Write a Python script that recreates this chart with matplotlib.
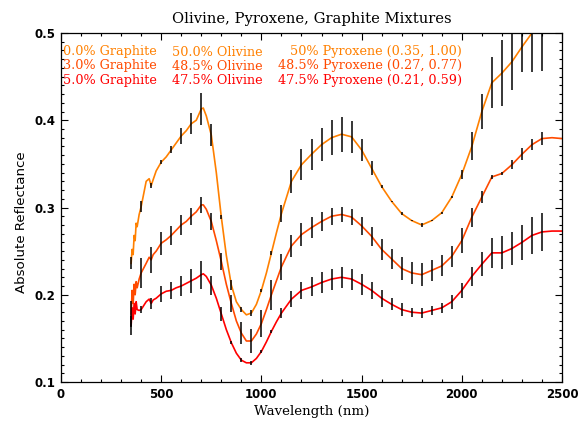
import numpy as np
import matplotlib
matplotlib.use("Agg")
import matplotlib.pyplot as plt
from matplotlib.ticker import MultipleLocator

# Spectrum wavelengths (nm)
wl = [350, 355, 360, 365, 370, 375, 380, 390, 400, 425, 440, 450, 460, 475,
      500, 525, 550, 575, 600, 625, 650, 675, 700, 710, 725, 750, 775, 800,
      825, 850, 875, 900, 925, 950, 975, 1000, 1025, 1050, 1075, 1100, 1150,
      1200, 1250, 1300, 1350, 1400, 1450, 1500, 1550, 1600, 1650, 1700, 1750,
      1800, 1850, 1900, 1950, 2000, 2050, 2100, 2150, 2200, 2250, 2300, 2350,
      2400, 2450, 2500]

refl_0 = [0.236, 0.252, 0.246, 0.268, 0.262, 0.282, 0.278, 0.292, 0.301, 0.330,
          0.333, 0.325, 0.332, 0.342, 0.352, 0.358, 0.366, 0.374, 0.382, 0.388,
          0.396, 0.400, 0.413, 0.414, 0.405, 0.383, 0.340, 0.289, 0.245, 0.211,
          0.192, 0.183, 0.177, 0.179, 0.189, 0.205, 0.225, 0.248, 0.271, 0.293,
          0.330, 0.349, 0.361, 0.372, 0.380, 0.384, 0.381, 0.366, 0.345, 0.324,
          0.307, 0.293, 0.285, 0.280, 0.285, 0.294, 0.312, 0.338, 0.370, 0.410,
          0.443, 0.454, 0.467, 0.484, 0.500, 0.502, 0.503, 0.503]

refl_3 = [0.178, 0.205, 0.190, 0.212, 0.200, 0.215, 0.208, 0.218, 0.225, 0.236,
          0.243, 0.240, 0.246, 0.250, 0.259, 0.263, 0.268, 0.274, 0.280, 0.284,
          0.290, 0.295, 0.303, 0.303, 0.298, 0.284, 0.262, 0.238, 0.212, 0.190,
          0.170, 0.156, 0.147, 0.147, 0.155, 0.167, 0.183, 0.200, 0.216, 0.232,
          0.256, 0.269, 0.277, 0.284, 0.290, 0.292, 0.289, 0.279, 0.267, 0.252,
          0.241, 0.230, 0.225, 0.223, 0.228, 0.233, 0.244, 0.262, 0.289, 0.312,
          0.335, 0.339, 0.349, 0.361, 0.372, 0.379, 0.380, 0.379]

refl_5 = [0.165, 0.185, 0.172, 0.190, 0.178, 0.192, 0.183, 0.182, 0.183, 0.192,
          0.195, 0.190, 0.194, 0.196, 0.201, 0.204, 0.205, 0.208, 0.210, 0.213,
          0.216, 0.219, 0.223, 0.224, 0.221, 0.211, 0.196, 0.178, 0.160, 0.145,
          0.133, 0.125, 0.122, 0.122, 0.127, 0.135, 0.146, 0.158, 0.169, 0.179,
          0.195, 0.205, 0.209, 0.214, 0.218, 0.220, 0.218, 0.212, 0.205, 0.196,
          0.189, 0.183, 0.180, 0.179, 0.182, 0.185, 0.192, 0.205, 0.221, 0.235,
          0.248, 0.248, 0.253, 0.260, 0.268, 0.272, 0.273, 0.273]

# Error bars every 50 nm, 350..2400
err_wl = list(range(350, 2401, 50))
err_0 = [0.007, 0.006, 0.003, 0.002, 0.004, 0.009, 0.012, 0.018, 0.013, 0.002,
         0.006, 0.003, 0.003, 0.002, 0.002, 0.010, 0.013, 0.018, 0.018, 0.019,
         0.020, 0.020, 0.018, 0.013, 0.008, 0.002, 0.001, 0.002, 0.001, 0.002,
         0.001, 0.001, 0.001, 0.005, 0.016, 0.020, 0.029, 0.038, 0.032, 0.029,
         0.045, 0.046]
err_3 = [0.015, 0.017, 0.015, 0.013, 0.011, 0.011, 0.010, 0.009, 0.010, 0.010,
         0.010, 0.013, 0.014, 0.015, 0.017, 0.015, 0.013, 0.013, 0.012, 0.011,
         0.010, 0.009, 0.009, 0.010, 0.011, 0.012, 0.012, 0.013, 0.013, 0.013,
         0.012, 0.012, 0.012, 0.014, 0.011, 0.007, 0.002, 0.002, 0.005, 0.007,
         0.006, 0.007]
err_5 = [0.011, 0.004, 0.006, 0.009, 0.010, 0.012, 0.014, 0.016, 0.011, 0.008,
         0.002, 0.002, 0.002, 0.002, 0.002, 0.006, 0.009, 0.010, 0.011, 0.012,
         0.012, 0.012, 0.012, 0.012, 0.010, 0.010, 0.007, 0.007, 0.005, 0.006,
         0.005, 0.006, 0.008, 0.009, 0.011, 0.014, 0.017, 0.019, 0.019, 0.020,
         0.021, 0.022]

labels_graphite = ["0.0% Graphite", "3.0% Graphite", "5.0% Graphite"]
labels_olivine = ["50.0% Olivine", "48.5% Olivine", "47.5% Olivine"]
labels_pyroxene = ["50% Pyroxene (0.35, 1.00)", "48.5% Pyroxene (0.27, 0.77)",
                   "47.5% Pyroxene (0.21, 0.59)"]
colors = ["#ff8000", "#ff4a00", "#ff0000"]

fig = plt.figure(figsize=(5.87, 4.23), dpi=100)
ax = fig.add_axes([61/587, 1-382/423, 501/587, 349/423])

series = [refl_0, refl_3, refl_5]
errs = [err_0, err_3, err_5]
wl_arr = np.array(wl)
for vals, e, c in zip(series, errs, colors):
    vals = np.array(vals)
    ax.plot(wl_arr, vals, color=c, lw=1.2, zorder=2)
    centers = np.array([vals[wl.index(w)] for w in err_wl])
    ax.errorbar(err_wl, centers, yerr=e, fmt='none', ecolor='black',
                elinewidth=1.1, capsize=0, zorder=3)

ax.set_xlim(0, 2500)
ax.set_ylim(0.1, 0.5)
ax.xaxis.set_major_locator(MultipleLocator(500))
ax.xaxis.set_minor_locator(MultipleLocator(100))
ax.yaxis.set_major_locator(MultipleLocator(0.1))
ax.yaxis.set_minor_locator(MultipleLocator(0.01))
ax.tick_params(which='both', direction='in', top=True, right=True,
               width=0.8, labelsize=8.5, pad=4)
ax.tick_params(which='major', length=5)
ax.tick_params(which='minor', length=2.2)
ax.set_yticks([0.1, 0.2, 0.3, 0.4, 0.5])
ax.set_yticklabels(["0.1", "0.2", "0.3", "0.4", "0.5"])
for lab in ax.get_xticklabels() + ax.get_yticklabels():
    lab.set_fontfamily('DejaVu Sans')
    lab.set_fontweight('semibold')
for sp in ax.spines.values():
    sp.set_linewidth(0.9)

ax.set_xlabel("Wavelength (nm)", family='DejaVu Serif', fontsize=9.6, labelpad=3)
ax.set_ylabel("Absolute Reflectance", family='DejaVu Sans', fontsize=9.6)
ax.yaxis.set_label_coords(-0.065, 0.458)
ax.set_title("Olivine, Pyroxene, Graphite Mixtures", family='DejaVu Serif',
             fontsize=10.6, pad=7)

ys = [52, 66, 80]
for i in range(3):
    yf = 1 - ys[i]/423
    fig.text(63/587, yf, labels_graphite[i], color=colors[i], fontsize=9.2,
             family='DejaVu Serif', va='center', ha='left')
    fig.text(172/587, yf, labels_olivine[i], color=colors[i], fontsize=9.2,
             family='DejaVu Serif', va='center', ha='left')
    fig.text(462/587, yf, labels_pyroxene[i], color=colors[i], fontsize=9.2,
             family='DejaVu Serif', va='center', ha='right')

fig.savefig("out.png", dpi=100)
